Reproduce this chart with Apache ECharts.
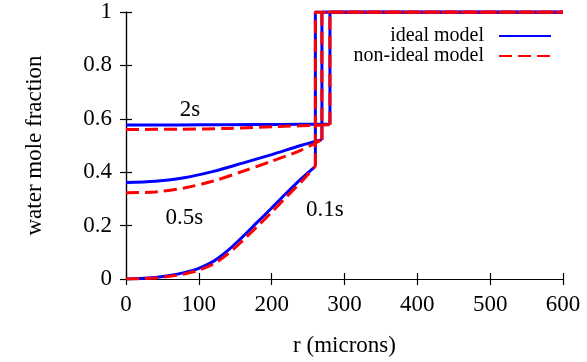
<!DOCTYPE html>
<html>
<head>
<meta charset="utf-8">
<script src="https://cdn.jsdelivr.net/npm/echarts@6/dist/echarts.min.js"></script>
<style>
  html, body { margin: 0; padding: 0; background: #fff; }
  #chart { width: 587px; height: 362px; }
</style>
</head>
<body>
<div id="chart"></div>
<script>
// Radial water mole fraction profiles at three times, ideal vs non-ideal model.
const FONT = '"Liberation Serif", "DejaVu Serif", serif';

// Sample radii (microns) and mole fractions inside the particle, per time.
const r01 = [0, 20, 40, 60, 80, 100, 120, 140, 160, 180, 200, 220, 240, 260];
const ideal01 = [0, 0.002, 0.006, 0.013, 0.024, 0.04, 0.066, 0.107, 0.158, 0.212, 0.266, 0.321, 0.374, 0.422];
const nonIdeal01 = [0, 0.001, 0.004, 0.01, 0.019, 0.033, 0.056, 0.094, 0.143, 0.196, 0.25, 0.307, 0.362, 0.422];

const r05 = [0, 40, 80, 120, 160, 200, 240, 269];
const ideal05 = [0.361, 0.366, 0.379, 0.403, 0.434, 0.466, 0.5, 0.522];
const nonIdeal05 = [0.323, 0.326, 0.341, 0.367, 0.403, 0.441, 0.482, 0.522];

const r2 = [0, 70, 140, 210, 280];
const ideal2 = [0.577, 0.577, 0.578, 0.579, 0.58];
const nonIdeal2 = [0.56, 0.561, 0.564, 0.571, 0.578];

// Outside the front the gas phase is pure water out to the edge of the domain.
const outerFraction = 1;
const rMax = 600;

const xTicks = [0, 100, 200, 300, 400, 500, 600];
const yTicks = [0, 0.2, 0.4, 0.6, 0.8, 1];

const BLUE = '#0000ff';
const RED = '#ff0000';

function lineSeries(name, data, color, dashed, smooth) {
  return {
    name: name,
    type: 'line',
    data: data,
    showSymbol: false,
    symbol: 'none',
    smooth: smooth ? 0.3 : false,
    z: dashed ? 3 : 2,
    animation: false,
    lineStyle: { color: color, width: 3, type: dashed ? [13, 6] : 'solid' },
    itemStyle: { color: color }
  };
}

// Each profile: a smooth interior curve, then the jump at the front and the flat outer part.
function profileSeries(name, rs, vals, color, dashed) {
  const inner = rs.map((r, i) => [r, vals[i]]);
  const front = rs[rs.length - 1];
  const outer = [[front, vals[vals.length - 1]], [front, outerFraction], [rMax, outerFraction]];
  return [
    lineSeries(name, inner, color, dashed, true),
    lineSeries(name, outer, color, dashed, false)
  ];
}

const series = [].concat(
  profileSeries('ideal model', r01, ideal01, BLUE, false),
  profileSeries('ideal model', r05, ideal05, BLUE, false),
  profileSeries('ideal model', r2, ideal2, BLUE, false),
  profileSeries('non-ideal model', r01, nonIdeal01, RED, true),
  profileSeries('non-ideal model', r05, nonIdeal05, RED, true),
  profileSeries('non-ideal model', r2, nonIdeal2, RED, true)
);

const axisLine = { show: true, lineStyle: { color: '#000', width: 1.2 } };
const tick = { show: true, inside: true, length: 6, lineStyle: { color: '#000', width: 1.2 } };
const labelStyle = { color: '#000', fontFamily: FONT, fontSize: 23 };

const chart = echarts.init(document.getElementById('chart'), null, { renderer: 'canvas' });

chart.setOption({
  animation: false,
  backgroundColor: '#fff',
  grid: { left: 126, right: 24, top: 12, bottom: 82 },
  legend: {
    data: ['ideal model', 'non-ideal model'],
    right: 30,
    top: 21,
    orient: 'vertical',
    align: 'right',
    itemWidth: 52,
    itemHeight: 14,
    itemGap: 0,
    itemStyle: { opacity: 0 },
    textStyle: { color: '#000', fontFamily: FONT, fontSize: 20, lineHeight: 19, padding: [0, 10, 0, 0] }
  },
  xAxis: [
    {
      type: 'value', min: xTicks[0], max: xTicks[xTicks.length - 1], interval: 100,
      name: 'r (microns)', nameLocation: 'middle', nameGap: 55,
      nameTextStyle: { color: '#000', fontFamily: FONT, fontSize: 23 },
      axisLine: axisLine, axisTick: tick, splitLine: { show: false },
      axisLabel: Object.assign({ margin: 14 }, labelStyle)
    },
    {
      type: 'value', position: 'top', min: xTicks[0], max: xTicks[xTicks.length - 1], interval: 100,
      axisLine: axisLine, axisTick: tick, splitLine: { show: false }, axisLabel: { show: false }
    }
  ],
  yAxis: [
    {
      type: 'value', min: yTicks[0], max: yTicks[yTicks.length - 1], interval: 0.2,
      name: 'water mole fraction', nameLocation: 'middle', nameGap: 80,
      nameTextStyle: { color: '#000', fontFamily: FONT, fontSize: 23 },
      axisLine: axisLine, axisTick: tick, splitLine: { show: false },
      axisLabel: Object.assign({ margin: 14, formatter: v => String(+v.toFixed(1)) }, labelStyle)
    },
    {
      type: 'value', position: 'right', min: yTicks[0], max: yTicks[yTicks.length - 1], interval: 0.2,
      axisLine: axisLine, axisTick: tick, splitLine: { show: false }, axisLabel: { show: false }
    }
  ],
  series: series
});

// Time annotations beside each profile, anchored in data coordinates.
const timeLabels = [
  { text: '2s', at: [88, 0.635] },
  { text: '0.5s', at: [80, 0.23] },
  { text: '0.1s', at: [273, 0.258] }
];
chart.setOption({
  graphic: timeLabels.map(t => {
    const p = chart.convertToPixel({ xAxisIndex: 0, yAxisIndex: 0 }, t.at);
    return {
      type: 'text', x: p[0], y: p[1], z: 10,
      style: { text: t.text, fill: '#000', font: '23px ' + FONT, align: 'center', verticalAlign: 'middle' }
    };
  })
});
</script>
</body>
</html>
